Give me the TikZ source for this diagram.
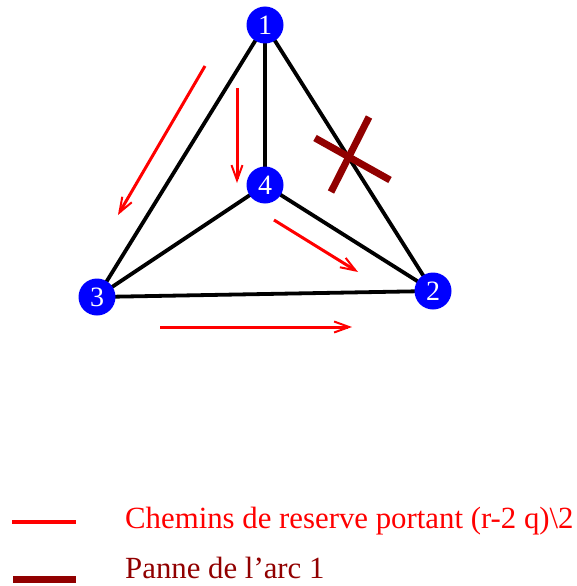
\documentclass[tikz,border=0pt]{standalone}
\usepackage{fontspec}
\setmainfont{Liberation Serif}
\usetikzlibrary{arrows.meta}
\definecolor{darkred}{RGB}{145,0,0}
\begin{document}
\begin{tikzpicture}[x=1pt,y=-1pt,
  vertex/.style={circle,fill=blue,inner sep=0pt,minimum size=37pt,text=white,font=\fontsize{28}{28}\selectfont},
  edge/.style={line width=3.8pt,black},
  path/.style={line width=3pt,red,-{Straight Barb[length=15pt,width=11pt,line width=2pt]}},
  fail/.style={line width=7pt,darkred},
  lbl/.style={anchor=base west,inner sep=0pt,font=\fontsize{30.8}{30.8}\selectfont}]
\useasboundingbox (0,0) rectangle (577,586);
\coordinate (p1) at (265,25);
\coordinate (p2) at (433,291);
\coordinate (p3) at (97,297);
\coordinate (p4) at (265,185);
\draw[edge] (p1) -- (p2) -- (p3) -- cycle;
\draw[edge] (p1) -- (p4) (p2) -- (p4) (p3) -- (p4);
\node[vertex] (n1) at (p1) {1};
\node[vertex] (n2) at (p2) {2};
\node[vertex] (n3) at (p3) {3};
\node[vertex] (n4) at (p4) {4};
\coordinate (a1s) at (205,66); \coordinate (a1e) at (118,215);
\coordinate (a2s) at (237,88); \coordinate (a2e) at (237,183);
\coordinate (a3s) at (274,220); \coordinate (a3e) at (358,272);
\coordinate (a4s) at (160,327); \coordinate (a4e) at (352,327);
\draw[path] (a1s) -- (a1e);
\draw[path] (a2s) -- (a2e);
\draw[path] (a3s) -- (a3e);
\draw[path] (a4s) -- (a4e);
\coordinate (x1) at (315,138); \coordinate (x2) at (390,180);
\coordinate (x3) at (369,117); \coordinate (x4) at (331,192);
\draw[fail] (x1) -- (x2);
\draw[fail] (x3) -- (x4);
\coordinate (l1a) at (12,522); \coordinate (l1b) at (76,522);
\coordinate (l2a) at (13,579.5); \coordinate (l2b) at (76,579.5);
\draw[line width=4pt,red] (l1a) -- (l1b);
\draw[line width=6.5pt,darkred] (l2a) -- (l2b);
\node[lbl,text=red] (t1) at (125,528) {Chemins de reserve portant (r-2 q)\textbackslash 2};
\node[lbl,text=darkred] (t2) at (125,578) {Panne de l’arc 1};
\end{tikzpicture}
\end{document}
